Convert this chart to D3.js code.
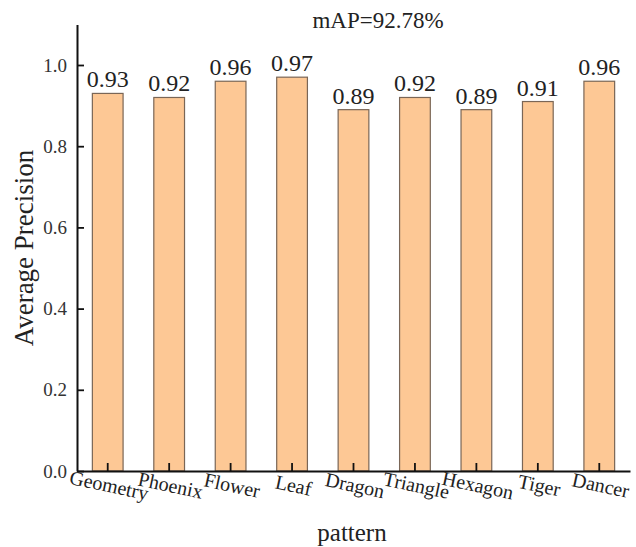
<!DOCTYPE html>
<html><head><meta charset="utf-8">
<script src="https://cdn.jsdelivr.net/npm/d3@7"></script>
<style>body{margin:0;background:#fff}svg{display:block}svg text{font-family:'Liberation Serif','Times New Roman',serif !important}</style>
</head><body>
<script>
const categories = ["Geometry","Phoenix","Flower","Leaf","Dragon","Triangle","Hexagon","Tiger","Dancer"];
const values = [0.93,0.92,0.96,0.97,0.89,0.92,0.89,0.91,0.96];
const yTicks = [0.0,0.2,0.4,0.6,0.8,1.0];
const title = "mAP=92.78%";
const xTitle = "pattern", yTitle = "Average Precision";

const W=636,H=547;
const svg = d3.select("body").append("svg").attr("width",W).attr("height",H);
const x = d3.scaleBand().domain(categories).range([77,630]).paddingInner(0.5).paddingOuter(0.25);
const y = d3.scaleLinear().domain([0,1.1]).range([471,24.4]);

svg.append("g").selectAll("rect").data(values).join("rect")
  .attr("x",(d,i)=>x(categories[i])).attr("width",x.bandwidth())
  .attr("y",d=>y(d)).attr("height",d=>y(0)-y(d))
  .attr("fill","#FDC895").attr("stroke","#7a6656").attr("stroke-width",1.2);

svg.append("g").selectAll("text").data(values).join("text")
  .attr("x",(d,i)=>x(categories[i])+x.bandwidth()/2).attr("y",d=>y(d)-6)
  .attr("text-anchor","middle").attr("font-size",24).attr("fill","#222")
  .text(d=>d.toFixed(2));

// y axis
const ya = svg.append("g").attr("transform","translate(77,0)")
  .call(d3.axisLeft(y).tickValues(yTicks).tickFormat(d3.format(".1f")).tickSizeInner(-7).tickSizeOuter(0).tickPadding(10));
ya.select(".domain").attr("stroke","#111").attr("stroke-width",2);
ya.selectAll(".tick line").attr("stroke","#111").attr("stroke-width",1.8);
ya.selectAll("text").attr("font-size",19).attr("fill","#333").attr("dy","0.32em");

// x axis
const xa = svg.append("g").attr("transform","translate(0,471)")
  .call(d3.axisBottom(x).tickSizeInner(-8).tickSizeOuter(0).tickFormat(""));
xa.select(".domain").attr("stroke","#111").attr("stroke-width",2);
xa.selectAll(".tick line").attr("stroke","#111").attr("stroke-width",1.8);
xa.selectAll(".tick").append("text")
  .attr("transform","translate(0,21) rotate(12)")
  .attr("text-anchor","middle").attr("font-size",20).attr("fill","#222")
  .text(d=>d);

svg.append("text").attr("x",378).attr("y",28).attr("text-anchor","middle")
  .attr("font-size",23).attr("fill","#222").text(title);
svg.append("text").attr("x",352).attr("y",541).attr("text-anchor","middle")
  .attr("font-size",25).attr("fill","#222").text(xTitle);
svg.append("text").attr("transform","translate(33,248) rotate(-90)").attr("text-anchor","middle")
  .attr("font-size",27).attr("fill","#222").text(yTitle);
</script>
</body></html>
